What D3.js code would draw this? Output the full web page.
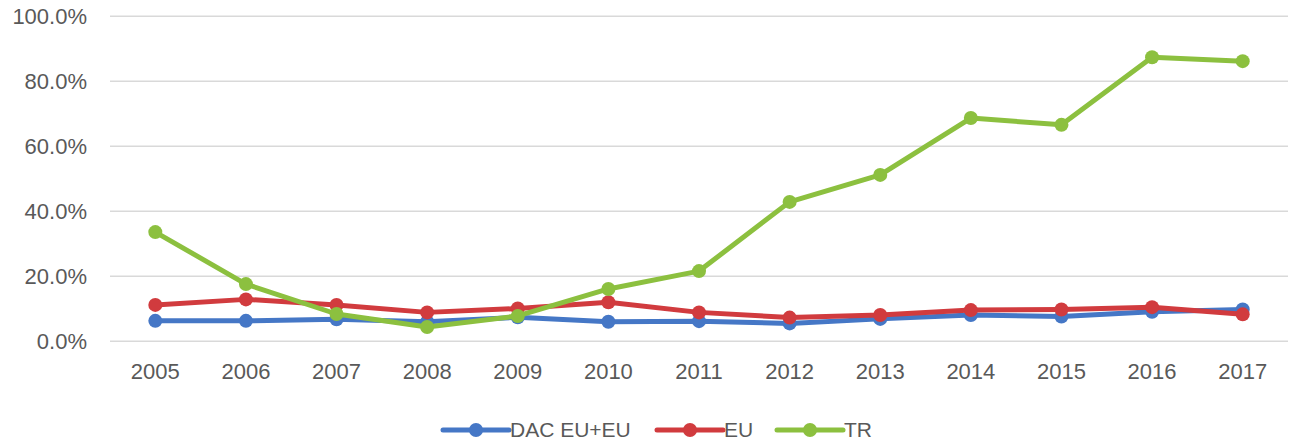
<!DOCTYPE html>
<html>
<head>
<meta charset="utf-8">
<script src="https://cdn.jsdelivr.net/npm/d3@7"></script>
<style>
  body { margin: 0; background: #fff; }
  text { font-family: "Liberation Sans", Arial, sans-serif; fill: #595959; }
</style>
</head>
<body>
<div id="chart"></div>
<script>
// chart data
var years = ["2005", "2006", "2007", "2008", "2009", "2010", "2011", "2012", "2013", "2014", "2015", "2016", "2017"];
var dacEu = [6.3, 6.3, 6.8, 6.0, 7.4, 6.0, 6.2, 5.5, 6.9, 8.1, 7.6, 9.1, 9.8];
var eu = [11.2, 12.9, 11.2, 8.9, 10.1, 12.0, 8.9, 7.3, 8.1, 9.6, 9.8, 10.5, 8.3];
var tr = [33.6, 17.6, 8.4, 4.4, 7.8, 16.1, 21.6, 42.9, 51.2, 68.7, 66.6, 87.4, 86.2];
var yTicks = [0, 20, 40, 60, 80, 100];

var series = [
  { name: "DAC EU+EU", values: dacEu, color: "#4577c6" },
  { name: "EU", values: eu, color: "#d13b3e" },
  { name: "TR", values: tr, color: "#8cc03f" }
];

var width = 1292;
var height = 443;

var svg = d3.select("#chart")
  .append("svg")
  .attr("width", width)
  .attr("height", height);

// scales
var xScale = d3.scaleBand()
  .domain(years)
  .range([110, 1288]);

var yScale = d3.scaleLinear()
  .domain([0, 100])
  .range([341.3, 16.3]);

// gridlines
svg.append("g")
  .selectAll("line")
  .data(yTicks)
  .enter()
  .append("line")
  .attr("x1", 110)
  .attr("x2", 1288)
  .attr("y1", function(d) { return yScale(d); })
  .attr("y2", function(d) { return yScale(d); })
  .attr("stroke", "#d9d9d9")
  .attr("stroke-width", 1.5);

// y axis labels
var yAxis = d3.axisLeft(yScale)
  .tickValues(yTicks)
  .tickSize(0)
  .tickPadding(0)
  .tickFormat(function(d) { return d.toFixed(1) + "%"; });

var yG = svg.append("g")
  .attr("transform", "translate(87,0)")
  .call(yAxis);
yG.select(".domain").remove();
yG.selectAll("text")
  .attr("font-size", 22)
  .attr("font-family", null)
  .attr("fill", "#595959");

// x axis labels
var xAxis = d3.axisBottom(xScale).tickSize(0).tickPadding(0);
var xG = svg.append("g")
  .attr("transform", "translate(0,363)")
  .call(xAxis);
xG.select(".domain").remove();
xG.selectAll("text")
  .attr("font-size", 22)
  .attr("font-family", null)
  .attr("fill", "#595959");

// lines and markers
var line = d3.line()
  .x(function(d, i) { return xScale(years[i]) + xScale.bandwidth() / 2; })
  .y(function(d) { return yScale(d); });

series.forEach(function(s) {
  var g = svg.append("g");
  g.append("path")
    .datum(s.values)
    .attr("d", line)
    .attr("fill", "none")
    .attr("stroke", s.color)
    .attr("stroke-width", 5)
    .attr("stroke-linejoin", "round");
  g.selectAll("circle")
    .data(s.values)
    .enter()
    .append("circle")
    .attr("cx", function(d, i) { return xScale(years[i]) + xScale.bandwidth() / 2; })
    .attr("cy", function(d) { return yScale(d); })
    .attr("r", 7)
    .attr("fill", s.color);
});

// legend
var legendX = [443, 657, 777];
var legend = svg.append("g").attr("transform", "translate(0,430)");
series.forEach(function(s, i) {
  var lg = legend.append("g").attr("transform", "translate(" + legendX[i] + ",0)");
  lg.append("line")
    .attr("x1", 0).attr("x2", 66)
    .attr("y1", 0).attr("y2", 0)
    .attr("stroke", s.color)
    .attr("stroke-width", 5)
    .attr("stroke-linecap", "round");
  lg.append("circle")
    .attr("cx", 33).attr("cy", 0).attr("r", 7)
    .attr("fill", s.color);
  lg.append("text")
    .attr("x", 67)
    .attr("y", 0)
    .attr("dy", "0.35em")
    .attr("font-size", 21)
    .text(s.name);
});
</script>
</body>
</html>
